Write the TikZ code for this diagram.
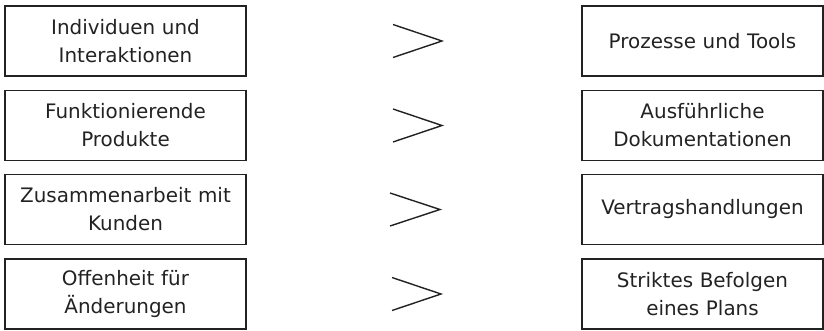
\documentclass[tikz,border=0pt]{standalone}
\usepackage{fontspec}
\setmainfont{DejaVu Sans}
\definecolor{ink}{HTML}{222222}
\begin{document}
\begin{tikzpicture}[x=1bp,y=1bp,
  box/.style={draw=ink, line width=1.5bp, minimum width=241bp, minimum height=70bp,
    inner sep=0pt, text width=235bp, align=center, text=ink,
    font=\fontsize{20}{28}\selectfont},
  gt/.style={draw=ink, line width=1.4bp}]
\useasboundingbox (0,0) rectangle (824,330);
\node[box] (l1) at (125.5,289) {Individuen und\\Interaktionen};
\node[box] (l2) at (125.5,204.5) {Funktionierende\\Produkte};
\node[box] (l3) at (125.5,120.5) {Zusammenarbeit mit\\Kunden};
\node[box] (l4) at (125.5,36) {Offenheit für\\Änderungen};
\node[box] (r1) at (702.5,289) {Prozesse und Tools};
\node[box] (r2) at (702.5,204.5) {Ausführliche\\Dokumentationen};
\node[box] (r3) at (702.5,120.5) {Vertragshandlungen};
\node[box] (r4) at (702.5,36) {Striktes Befolgen\\eines Plans};
\draw[gt] (393,305.5) -- (442,289) -- (393,272.5);
\draw[gt] (393,221) -- (442,204.5) -- (393,188);
\draw[gt] (390,137) -- (440,120.5) -- (390,104);
\draw[gt] (392,52.5) -- (441,36) -- (392,19.5);
\end{tikzpicture}
\end{document}
